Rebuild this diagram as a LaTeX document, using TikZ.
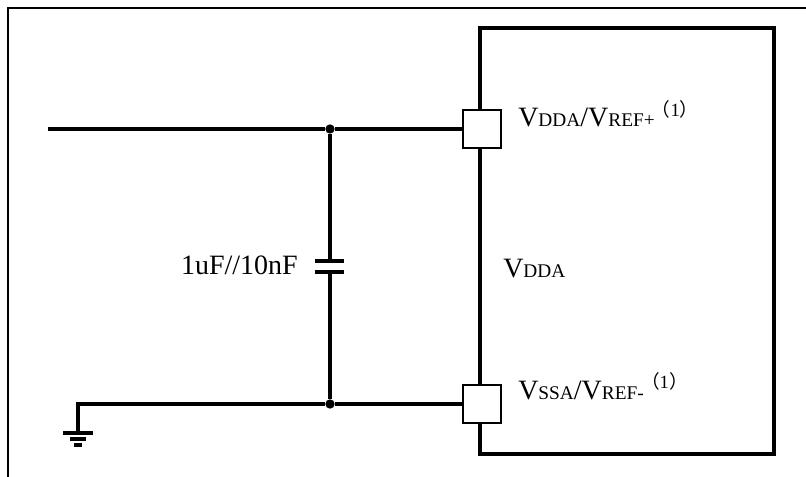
\documentclass[tikz,border=0pt]{standalone}
\usepackage{fontspec}
\setmainfont{Liberation Serif}
\newfontfamily\cjk{Noto Sans CJK SC}
\begin{document}
\begin{tikzpicture}[x=0.75pt,y=-0.75pt,
  wire/.style={line width=2.8pt},
  frame/.style={line width=2.2pt},
  chipbox/.style={draw,line width=2.8pt},
  pinbox/.style={draw,line width=1.3pt,fill=white,minimum width=28.5pt,minimum height=28pt,inner sep=0pt},
  junc/.style={circle,fill=black,inner sep=0pt,minimum size=7pt},
  lbl/.style={inner sep=0pt,anchor=base west,font=\fontsize{21}{24}\selectfont}]
\useasboundingbox (0,0) rectangle (806,477);
% outer frame
\draw[frame] (8,477) -- (8,8) -- (806,8);
% chip
\draw[chipbox] (480,28) rectangle (774,454);
\node[pinbox] (p1) at (482,129) {};
\node[pinbox] (p2) at (482,404) {};
% wires
\coordinate (tin) at (48,129);
\coordinate (gin) at (78,404);
\node[junc] (j1) at (330,129) {};
\node[junc] (j2) at (330,404) {};
\coordinate (c1) at (330,261);
\coordinate (c2) at (330,272);
\draw[wire] (tin) -- (j1) -- (p1.west);
\draw[wire] (j1) -- (c1);
\draw[wire] (c2) -- (j2);
\draw[wire] (p2.west) -- (j2) -- (gin) -- ++(0,29) coordinate (g);
\draw[wire] ([shift={(-15,0)}]c1) -- ([shift={(14,0)}]c1);
\draw[wire] ([shift={(-15,0)}]c2) -- ([shift={(14,0)}]c2);
% ground
\draw[wire] ([shift={(-15,0)}]g) -- ([shift={(15,0)}]g);
\draw[wire] ([shift={(-8,6)}]g) -- ([shift={(8,6)}]g);
\draw[wire] ([shift={(-4,12)}]g) -- ([shift={(4,12)}]g);
% labels
\newcommand{\smc}[1]{{\fontsize{14.5}{16}\selectfont #1}}
\newcommand{\supone}{\raisebox{8pt}{\fontsize{14}{16}\selectfont\kern-0.15em{\cjk（}1{\cjk）}}}
\node[lbl,anchor=base east] (cap) at (298,274) {1uF//10nF};
\node[lbl] (vdda) at (503,277) {V\smc{DDA}};
\node[lbl] (l1) at (518,127) {V\smc{DDA}/V\smc{REF+}\supone};
\node[lbl] (l2) at (518,399) {V\smc{SSA}/V\smc{REF-}\supone};
\end{tikzpicture}
\end{document}
